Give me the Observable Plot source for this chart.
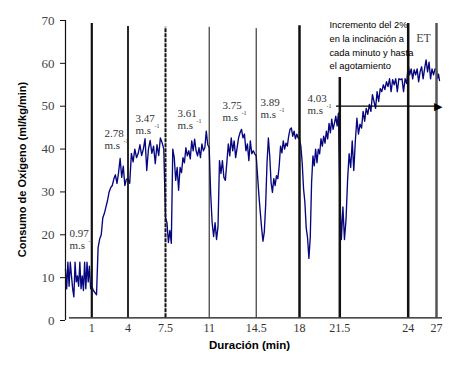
<!DOCTYPE html>
<html><head><meta charset="utf-8">
<script src="https://cdn.jsdelivr.net/npm/d3@7"></script>
<script src="https://cdn.jsdelivr.net/npm/@observablehq/plot@0.6"></script>
<style>body{margin:0;background:#fff} #chart{width:464px;height:367px}</style>
</head><body><div id="chart"></div>
<script>
// Stage boundaries (min) for the sampled VO2 trace
const stageBounds = [0, 1, 4, 7.5, 11, 14.5, 18, 21.5, 24, 27, 27.4];
// VO2 readings (ml/kg/min), sampled evenly within each stage
const vo2Stage0 = [12, 7.4, 13.6, 8, 13.6, 10.4, 7.4, 5.5, 13.6, 9, 10.4, 8, 13.6, 7.4, 10.4, 7, 13.6, 7.4, 13.6, 9, 12.7, 7.4];
const vo2Stage1 = [8, 7, 6.5, 6, 17, 19, 20, 24, 25, 26.5, 28, 30, 31, 31.5, 33, 34, 32, 34.5, 37.8, 33.4, 36, 31.5, 33];
const vo2Stage2 = [33, 32, 39, 37, 40, 38, 39, 41, 38.5, 40, 42.4, 35, 40, 42, 39, 40.7, 36.6, 41, 38.5, 42.6, 41.5, 40];
const vo2Stage3 = [24, 22.8, 18.2, 21, 18, 40, 38, 32.7, 35.7, 30.4, 35.7, 34.5, 38, 36.8, 40.3, 38.4, 39.6, 37.7, 41.9, 39.6, 42.3, 39.6, 38.4, 40.3, 38, 41.2, 39.6, 40.3, 44.2, 41];
const vo2Stage4 = [40.3, 29.7, 22.8, 19.6, 22.8, 18.9, 21.9, 37.3, 34.3, 37.3, 33.4, 32.7, 36.8, 41.2, 38.4, 42.6, 39.6, 41.9, 38, 40.3, 42.6, 43.8, 44.6, 42.6, 43.5, 39.6, 41.2, 37.3, 41.9, 38.9, 39.6, 38.9];
const vo2Stage5 = [38.4, 33.8, 29.2, 25.3, 21.6, 18.5, 20.7, 27, 36.8, 42.6, 38.4, 32.2, 29.9, 33.1, 31.5, 33.8, 33.1, 36.1, 40.7, 39.1, 41.9, 40, 41.4, 40.7, 43, 44.6, 44.9, 43, 44.2, 42.4, 43.5, 42.6];
const vo2Stage6 = [42.4, 40.7, 36.8, 30.8, 27.6, 21.6, 19.3, 14.5, 19.3, 32.2, 38.4, 36.1, 40, 36.8, 40, 38.9, 42.4, 40.7, 43, 41.4, 44.2, 42.4, 46, 43.8, 47, 44.6, 46, 47.7, 45.4, 48.4];
const vo2Stage7 = [29.7, 18.9, 26.5, 18.9, 23.5, 32.7, 38.9, 35.7, 41.9, 35, 41.9, 47.2, 43.5, 45.8, 44.9, 48.8, 46.5, 49.5, 48.1, 50.4, 48.8, 52.7, 51.1, 49.5, 53.4, 51.1, 54.1, 53.4, 55, 53.9, 55.7, 54.6, 56.4, 53.4, 56.2, 55, 56.4, 53.4, 56.4, 56.2, 56.4, 53.4, 56.4, 55.3];
const vo2Stage8 = [59.6, 57.3, 58.7, 56.4, 58.5, 57.3, 58.7, 55.7, 58, 59.2, 56.4, 58.7, 60.8, 58, 60.3, 56.4, 58.7, 57.3, 58.7];
const vo2Stage9 = [58.5, 56.5, 57.5, 56];

// Stage change markers (min) and how high each marker line reaches (ml/kg/min)
const stageLines = [1, 4, 7.5, 11, 14.5, 18, 21.5, 24, 27];
const stageLineTops = [69.3, 68.6, 68.4, 68.4, 68.1, 68.8, 56.7, 69.3, 69.3];

// Speed annotations
const speeds = ["0.97", "2.78", "3.47", "3.61", "3.75", "3.89", "4.03"];
const speedAtTime = [0.15, 2.05, 4.7, 8.46, 11.99, 14.85, 18.69];
const speedAtVo2 = [21.4, 44.75, 48.25, 49.4, 51.3, 52.0, 52.9];

const xTicks = [1, 4, 7.5, 11, 14.5, 18, 21.5, 24, 27];
const yTicks = [0, 10, 20, 30, 40, 50, 60, 70];

const noteLines = ["Incremento del 2%", "en la inclinación a", "cada minuto y hasta", "el agotamiento"];

// The original time axis is drawn piecewise (uneven spacing between stage markers):
// minutes -> axis position units
const axisPos = d3.scaleLinear()
  .domain([0, 1, 4, 7.5, 11, 14.5, 18, 21.5, 24, 27, 28])
  .range([0, 26.3, 62.5, 100, 143.7, 190.7, 234, 274.3, 342.7, 371, 381]);

// build trace table
const stages = [vo2Stage0, vo2Stage1, vo2Stage2, vo2Stage3, vo2Stage4, vo2Stage5, vo2Stage6, vo2Stage7, vo2Stage8, vo2Stage9];
const trace = [];
stages.forEach((vals, k) => {
  const a = stageBounds[k], b = stageBounds[k + 1];
  vals.forEach((v, i) => trace.push({t: a + i * (b - a) / vals.length, v}));
});
const lines = stageLines.map((t, i) => ({t, top: stageLineTops[i]}));
const labels = speeds.map((s, i) => ({s: s + "\nm.s", t: speedAtTime[i], v: speedAtVo2[i]}));
const X = d => axisPos(d.t);

const serif = "Liberation Serif, Times New Roman, serif";
const sans = "Liberation Sans, Arial, sans-serif";

const chart = Plot.plot({
  width: 464, height: 367,
  marginTop: 20, marginBottom: 47, marginLeft: 65, marginRight: 18,
  style: {background: "#fff", fontFamily: serif},
  x: {type: "linear", domain: [0, 381]},
  y: {domain: [0, 70]},
  marks: [
    Plot.line(trace, {x: X, y: "v", stroke: "#06067f", strokeWidth: 1.35}),
    Plot.ruleX(lines.filter(d => d.t === 1), {x: X, y1: 0.63, y2: "top", stroke: "#111", strokeWidth: 2.2}),
    Plot.ruleX(lines.filter(d => d.t === 4), {x: X, y1: 0.63, y2: "top", stroke: "#111", strokeWidth: 1.8}),
    Plot.ruleX(lines.filter(d => d.t === 7.5), {x: X, y1: 0.63, y2: "top", stroke: "#111", strokeWidth: 2, strokeDasharray: "4,1"}),
    Plot.ruleX(lines.filter(d => d.t === 11 || d.t === 14.5), {x: X, y1: 0.63, y2: "top", stroke: "#111", strokeWidth: 1}),
    Plot.ruleX(lines.filter(d => d.t >= 18 && d.t < 27), {x: X, y1: 0.63, y2: "top", stroke: "#111", strokeWidth: 2.5}),
    Plot.ruleX(lines.filter(d => d.t === 27), {x: X, y1: 0.63, y2: "top", stroke: "#555", strokeWidth: 2.5}),
    Plot.ruleY([0.63], {x1: axisPos(0.15), x2: axisPos(27.6), stroke: "#111", strokeWidth: 1.2}),
    Plot.ruleX([axisPos(0)], {y1: 0, y2: 70, stroke: "#111", strokeWidth: 1.2}),
    Plot.axisY({ticks: yTicks, tickSize: 5, tickPadding: 6, fontSize: 13, fontFamily: serif, fill: "#444", stroke: "#111", label: null}),
    Plot.axisX(xTicks.map(t => axisPos(t)), {tickSize: 0, tickPadding: 3, fontSize: 12, fontFamily: serif, fill: "#333", label: null, tickFormat: (d, i) => String(xTicks[i])}),
    Plot.text(labels, {x: X, y: "v", text: "s", textAnchor: "start", lineAnchor: "top", lineHeight: 1.1, fontSize: 11, fontFamily: serif, fill: "#333"}),
    Plot.text(labels, {x: X, y: "v", text: () => "-1", textAnchor: "start", lineAnchor: "middle", dx: 19, dy: 12, fontSize: 6, fontFamily: serif, fill: "#333"}),
    Plot.text(["ET"], {x: axisPos(25.62), y: 65.8, text: d => d, fontSize: 12, fontFamily: serif, fill: "#444"}),
    Plot.text([noteLines.join("\n")], {x: axisPos(20.6), y: 70.4, text: d => d, textAnchor: "start", lineAnchor: "top", lineHeight: 1.45, fontSize: 9.4, fontFamily: "Liberation Sans Narrow, Arial Narrow, Liberation Sans, sans-serif", fill: "#000"}),
    Plot.ruleY([50], {x1: axisPos(21.21), x2: axisPos(27.2), stroke: "#000", strokeWidth: 1.2}),
    Plot.text(["\u25B6"], {x: axisPos(27.6), y: 50, text: d => d, textAnchor: "end", fontSize: 11, fontFamily: "DejaVu Sans", fill: "#000"}),
    Plot.text(["Consumo de Oxígeno (ml/kg/min)"], {frameAnchor: "left", textAnchor: "middle", lineAnchor: "middle", dx: -43, dy: -1, rotate: -90, text: d => d, fontSize: 11, fontWeight: "bold", fontFamily: sans, fill: "#000"}),
    Plot.text(["Duración (min)"], {frameAnchor: "bottom", textAnchor: "middle", lineAnchor: "middle", dx: -6.5, dy: 24.5, text: d => d, fontSize: 11.5, fontWeight: "bold", fontFamily: sans, fill: "#000"})
  ]
});
document.getElementById("chart").appendChild(chart);
</script>
</body></html>
